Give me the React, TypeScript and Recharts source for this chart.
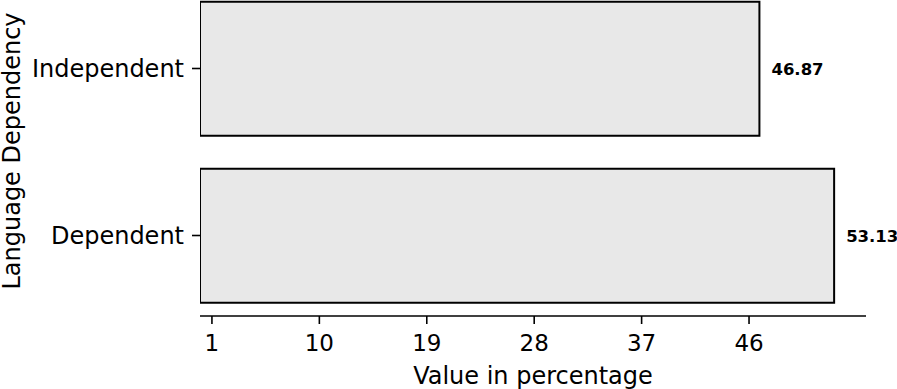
import { BarChart, Bar, XAxis, YAxis, LabelList } from "recharts";

const categories = ["Independent", "Dependent"];
const values = [46.87, 53.13];
const tickValues = [1, 10, 19, 28, 37, 46];

const data = categories.map((name, i) => ({ name, value: values[i] }));

const FONT = "'DejaVu Sans', sans-serif";

const XLabel = (props: any) => {
  const { viewBox } = props;
  const cx = viewBox.x + viewBox.width / 2;
  return (
    <text x={cx} y={384} textAnchor="middle" fontSize={24} fontFamily={FONT} fill="#000">
      Value in percentage
    </text>
  );
};

const YLabel = (props: any) => {
  const { viewBox } = props;
  const cy = viewBox.y + viewBox.height / 2;
  return (
    <text
      x={20}
      y={cy}
      transform={`rotate(-90, 20, ${cy})`}
      textAnchor="middle"
      fontSize={24}
      fontFamily={FONT}
      fill="#000"
    >
      Language Dependency
    </text>
  );
};

export default function App() {
  return (
    <div style={{ position: "absolute", left: 0, top: 0, background: "#fff" }}>
      <BarChart
        width={897}
        height={389}
        data={data}
        layout="vertical"
        margin={{ top: -14, right: 31, bottom: 0, left: 0 }}
        barCategoryGap="10%"
      >
        <XAxis
          type="number"
          domain={[0, 55.8]}
          ticks={tickValues}
          allowDataOverflow
          stroke="#000"
          strokeWidth={1.6}
          tickSize={8}
          tickMargin={11}
          tick={{ fill: "#000", fontSize: 23, fontFamily: FONT }}
          height={73}
          label={<XLabel />}
        />
        <YAxis
          type="category"
          dataKey="name"
          axisLine={false}
          stroke="#000"
          strokeWidth={1.6}
          tickSize={8}
          tickMargin={8}
          padding={{ top: -1, bottom: -3 }}
          tick={{ fill: "#000", fontSize: 24, fontFamily: FONT }}
          width={200}
          label={<YLabel />}
        />
        <Bar dataKey="value" fill="#e8e8e8" stroke="#000" strokeWidth={2} isAnimationActive={false}>
          <LabelList
            dataKey="value"
            position="right"
            offset={12}
            fill="#000"
            fontSize={16.5}
            fontWeight="bold"
            fontFamily={FONT}
            formatter={(v: any) => Number(v).toFixed(2)}
          />
        </Bar>
      </BarChart>
    </div>
  );
}
